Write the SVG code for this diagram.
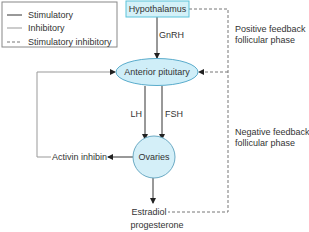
<svg xmlns="http://www.w3.org/2000/svg" width="309" height="232" viewBox="0 0 309 232">
<style>
text{font-family:"Liberation Sans",Arial,sans-serif;font-size:9px;fill:#333}
.s{stroke:#333;stroke-width:1;fill:none}
.i{stroke:#999;stroke-width:1;fill:none}
.d{stroke:#777;stroke-width:1;fill:none;stroke-dasharray:3,2}
</style>
<defs>
<marker id="ah" markerWidth="6" markerHeight="6" refX="5" refY="3" orient="auto" markerUnits="userSpaceOnUse">
<path d="M0,0 L6,3 L0,6 Z" fill="#222"/>
</marker>
</defs>
<rect width="309" height="232" fill="#fff"/>
<g id="legend">
<rect x="2" y="2" width="115" height="45" fill="#fff" stroke="#888"/>
<line class="s" x1="7" y1="15" x2="22" y2="15"/>
<text x="28" y="18">Stimulatory</text>
<line class="i" x1="7" y1="28" x2="22" y2="28"/>
<text x="28" y="31">Inhibitory</text>
<line class="d" x1="7" y1="42" x2="22" y2="42"/>
<text x="28" y="45">Stimulatory inhibitory</text>
</g>
<g id="connectors">
<line class="s" x1="157" y1="17" x2="157" y2="58" marker-end="url(#ah)"/>
<polyline class="d" points="189,9 228,9 228,212 168,212"/>
<line class="d" x1="228" y1="72" x2="199" y2="72" marker-end="url(#ah)"/>
<polyline class="i" points="51,157 37,157 37,72 115,72" marker-end="url(#ah)"/>
<line class="s" x1="145" y1="86" x2="145" y2="139" marker-end="url(#ah)"/>
<line class="s" x1="162" y1="86" x2="162" y2="139" marker-end="url(#ah)"/>
<line class="s" x1="133" y1="157" x2="108" y2="157" marker-end="url(#ah)"/>
<line class="s" x1="153" y1="178" x2="153" y2="203" marker-end="url(#ah)"/>
</g>
<g id="hypothalamus">
<rect x="126" y="1" width="63" height="16" fill="#d4f1f8" stroke="#5cc3da"/>
<text x="157.5" y="12" text-anchor="middle">Hypothalamus</text>
</g>
<g id="gnrh"><text x="159" y="38">GnRH</text></g>
<g id="anterior-pituitary">
<ellipse cx="157" cy="72" rx="41" ry="13.5" fill="#cfeef8" stroke="#5aaccc"/>
<text x="157" y="75" text-anchor="middle">Anterior pituitary</text>
</g>
<g id="lh"><text x="142" y="117" text-anchor="end">LH</text></g>
<g id="fsh"><text x="165" y="117">FSH</text></g>
<g id="ovaries">
<circle cx="154" cy="157" r="21" fill="#d4eff8" stroke="#6aaac4"/>
<text x="154" y="160" text-anchor="middle">Ovaries</text>
</g>
<g id="activin-inhibin"><text x="52" y="160">Activin inhibin</text></g>
<g id="estradiol">
<text x="149" y="215" text-anchor="middle">Estradiol</text>
<text x="157" y="228" text-anchor="middle">progesterone</text>
</g>
<g id="positive-feedback">
<text x="235" y="32">Positive feedback</text>
<text x="235" y="43">follicular phase</text>
</g>
<g id="negative-feedback">
<text x="235" y="135">Negative feedback</text>
<text x="235" y="146">follicular phase</text>
</g>
</svg>
